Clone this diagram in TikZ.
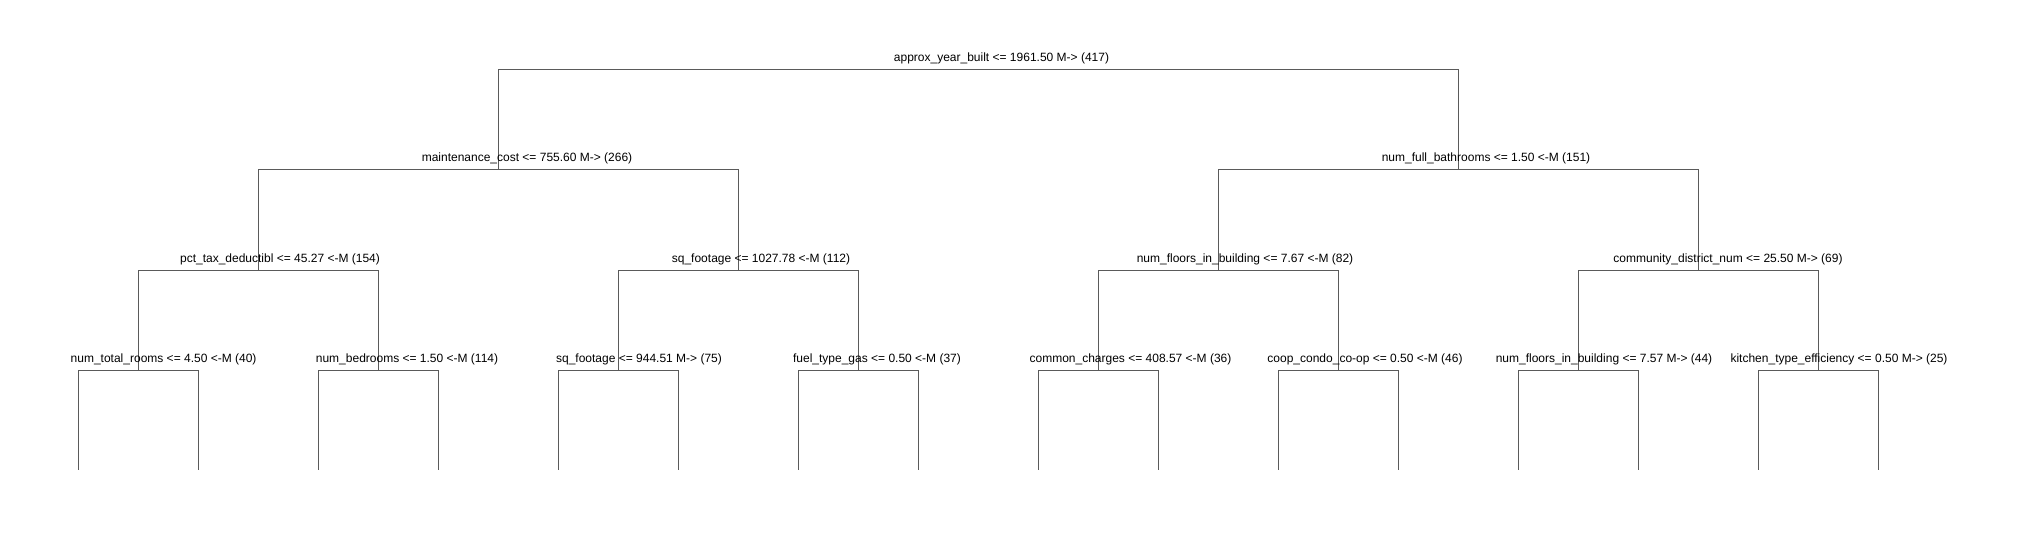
\documentclass[tikz,border=0pt]{standalone}
\usepackage{fontspec}
\setmainfont{Liberation Sans}
\definecolor{treeline}{HTML}{5A5A5A}
\tikzset{
  branch/.style={draw=treeline, line width=1pt},
  splitlabel/.style={anchor=base, inner sep=0pt, font=\fontsize{12}{14}\selectfont, text=black}
}
\begin{document}
\begin{tikzpicture}[x=1pt, y=-1pt]
\useasboundingbox (0,0) rectangle (2017,540);
% tree nodes (split points)
\coordinate (r)    at (978,70);
\coordinate (a)    at (498,170);
\coordinate (b)    at (1458,170);
\coordinate (aa)   at (258,270);
\coordinate (ab)   at (738,270);
\coordinate (ba)   at (1218,270);
\coordinate (bb)   at (1698,270);
\coordinate (aaa)  at (138,370);
\coordinate (aab)  at (378,370);
\coordinate (aba)  at (618,370);
\coordinate (abb)  at (858,370);
\coordinate (baa)  at (1098,370);
\coordinate (bab)  at (1338,370);
\coordinate (bba)  at (1578,370);
\coordinate (bbb)  at (1818,370);
% leaves
\foreach \i in {0,...,15} {
  \coordinate (leaf\i) at ({78+120*\i},470);
}
% connectors
\draw[branch] (r) -| (a);   \draw[branch] (r) -| (b);
\draw[branch] (a) -| (aa);  \draw[branch] (a) -| (ab);
\draw[branch] (b) -| (ba);  \draw[branch] (b) -| (bb);
\draw[branch] (aa) -| (aaa); \draw[branch] (aa) -| (aab);
\draw[branch] (ab) -| (aba); \draw[branch] (ab) -| (abb);
\draw[branch] (ba) -| (baa); \draw[branch] (ba) -| (bab);
\draw[branch] (bb) -| (bba); \draw[branch] (bb) -| (bbb);
\draw[branch] (aaa) -| (leaf0);  \draw[branch] (aaa) -| (leaf1);
\draw[branch] (aab) -| (leaf2);  \draw[branch] (aab) -| (leaf3);
\draw[branch] (aba) -| (leaf4);  \draw[branch] (aba) -| (leaf5);
\draw[branch] (abb) -| (leaf6);  \draw[branch] (abb) -| (leaf7);
\draw[branch] (baa) -| (leaf8);  \draw[branch] (baa) -| (leaf9);
\draw[branch] (bab) -| (leaf10); \draw[branch] (bab) -| (leaf11);
\draw[branch] (bba) -| (leaf12); \draw[branch] (bba) -| (leaf13);
\draw[branch] (bbb) -| (leaf14); \draw[branch] (bbb) -| (leaf15);
% labels
\node[splitlabel] (lr)   at (1001.5,62) {approx\_year\_built <= 1961.50 M-> (417)};
\node[splitlabel] (la)   at (527,162)  {maintenance\_cost <= 755.60 M-> (266)};
\node[splitlabel] (lb)   at (1486,162) {num\_full\_bathrooms <= 1.50 <-M (151)};
\node[splitlabel] (laa)  at (280,262)  {pct\_tax\_deductibl <= 45.27 <-M (154)};
\node[splitlabel] (lab)  at (761,262)  {sq\_footage <= 1027.78 <-M (112)};
\node[splitlabel] (lba)  at (1245,262) {num\_floors\_in\_building <= 7.67 <-M (82)};
\node[splitlabel] (lbb)  at (1728,262) {community\_district\_num <= 25.50 M-> (69)};
\node[splitlabel] (laaa) at (163.6,362) {num\_total\_rooms <= 4.50 <-M (40)};
\node[splitlabel] (laab) at (407,362)  {num\_bedrooms <= 1.50 <-M (114)};
\node[splitlabel] (laba) at (639,362)  {sq\_footage <= 944.51 M-> (75)};
\node[splitlabel] (labb) at (877,362)  {fuel\_type\_gas <= 0.50 <-M (37)};
\node[splitlabel] (lbaa) at (1130.5,362) {common\_charges <= 408.57 <-M (36)};
\node[splitlabel] (lbab) at (1365,362) {coop\_condo\_co-op <= 0.50 <-M (46)};
\node[splitlabel] (lbba) at (1604,362) {num\_floors\_in\_building <= 7.57 M-> (44)};
\node[splitlabel] (lbbb) at (1839,362) {kitchen\_type\_efficiency <= 0.50 M-> (25)};
\end{tikzpicture}
\end{document}
